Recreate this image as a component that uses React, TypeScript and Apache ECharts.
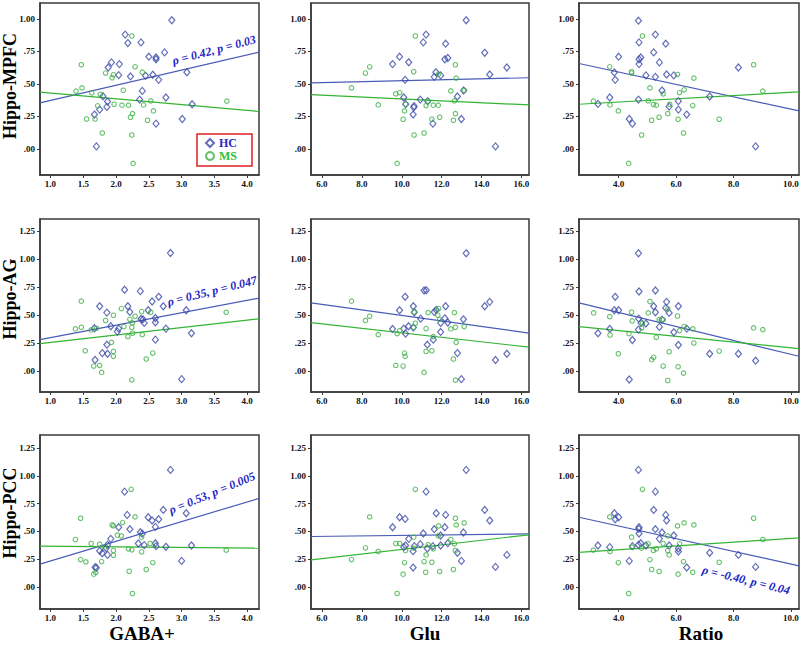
import React, { useEffect, useRef } from 'react';
import * as echarts from 'echarts';

// ---------- labels & ticks ----------
const rowNames = ['Hippo-MPFC', 'Hippo-AG', 'Hippo-PCC'];
const colNames = ['GABA+', 'Glu', 'Ratio'];
const gabaTicks = [1.0, 1.5, 2.0, 2.5, 3.0, 3.5, 4.0];
const gluTicks = [6, 8, 10, 12, 14, 16];
const ratioTicks = [4, 6, 8, 10];
const yTicksRow1 = [0, 0.25, 0.5, 0.75, 1.0];
const yTicksRow23 = [0, 0.25, 0.5, 0.75, 1.0, 1.25];
const annotTexts = ['ρ = 0.42, p = 0.03', 'ρ = 0.35, p = 0.047', 'ρ = 0.53, p = 0.005', 'ρ = -0.40, p = 0.04'];

// ---------- data: [x, y] per panel ----------
// Row 1: Hippo-MPFC
const hcMpfcGaba = [[2.85,0.99],[2.14,0.88],[2.18,0.815],[2.38,0.82],[2.74,0.743],[2.50,0.71],[2.61,0.704],[2.61,0.69],[1.93,0.666],[2.05,0.653],[1.88,0.627],[3.08,0.59],[2.04,0.568],[2.45,0.563],[2.56,0.571],[2.22,0.558],[2.65,0.532],[2.40,0.447],[2.76,0.396],[1.80,0.406],[2.36,0.38],[1.87,0.365],[3.16,0.344],[1.86,0.324],[1.75,0.303],[1.67,0.265],[3.01,0.231],[2.61,0.195],[1.70,0.02]];
const msMpfcGaba = [[2.24,0.869],[1.47,0.648],[2.29,0.632],[2.40,0.591],[1.84,0.584],[1.96,0.571],[1.94,0.548],[1.48,0.47],[2.11,0.452],[1.39,0.445],[1.63,0.432],[1.76,0.42],[2.53,0.37],[3.69,0.368],[1.97,0.344],[2.09,0.337],[2.19,0.337],[2.42,0.339],[1.72,0.332],[2.57,0.293],[2.25,0.272],[2.22,0.244],[1.55,0.231],[1.68,0.231],[2.48,0.221],[1.79,0.123],[2.24,0.108],[2.26,-0.111]];
const hcMpfcGlu = [[13.23,0.99],[11.22,0.88],[11.08,0.82],[12.20,0.81],[14.16,0.74],[9.89,0.71],[12.31,0.70],[12.16,0.69],[10.35,0.667],[9.54,0.653],[15.27,0.627],[11.71,0.59],[14.41,0.573],[11.95,0.566],[11.63,0.555],[10.17,0.532],[13.10,0.45],[12.79,0.404],[10.10,0.396],[10.93,0.38],[11.30,0.368],[10.20,0.345],[10.62,0.33],[10.60,0.32],[10.57,0.265],[12.99,0.231],[11.56,0.195],[14.70,0.02]];
const msMpfcGlu = [[10.68,0.869],[8.39,0.632],[8.18,0.584],[10.60,0.594],[12.69,0.648],[11.85,0.576],[12.73,0.545],[7.48,0.47],[12.46,0.447],[9.70,0.424],[9.90,0.434],[13.13,0.452],[11.32,0.368],[12.64,0.37],[8.82,0.339],[10.19,0.344],[11.22,0.334],[11.58,0.337],[11.83,0.337],[10.14,0.293],[12.69,0.272],[11.90,0.244],[10.07,0.229],[11.51,0.229],[12.59,0.221],[11.12,0.123],[10.62,0.108],[9.77,-0.111]];
const hcMpfcRatio = [[4.69,0.987],[5.28,0.88],[4.71,0.82],[5.64,0.81],[5.22,0.743],[4.00,0.71],[4.77,0.704],[4.71,0.69],[5.42,0.666],[4.71,0.653],[8.17,0.627],[3.85,0.589],[5.67,0.573],[5.92,0.566],[4.95,0.566],[5.28,0.555],[3.88,0.532],[5.51,0.45],[3.69,0.396],[7.17,0.404],[4.69,0.38],[6.08,0.368],[3.28,0.347],[5.76,0.326],[6.08,0.303],[6.37,0.265],[4.37,0.231],[4.48,0.195],[8.77,0.02]];
const msMpfcRatio = [[4.83,0.869],[8.70,0.648],[3.69,0.632],[4.45,0.594],[4.45,0.584],[6.05,0.573],[6.62,0.545],[5.09,0.47],[6.28,0.455],[6.12,0.434],[5.55,0.424],[9.02,0.445],[3.12,0.368],[5.03,0.37],[3.70,0.339],[5.21,0.342],[5.31,0.337],[5.78,0.344],[6.58,0.334],[5.71,0.272],[3.99,0.293],[5.41,0.244],[5.15,0.221],[6.07,0.229],[7.50,0.229],[6.26,0.123],[4.80,0.108],[4.35,-0.111]];
// Row 2: Hippo-AG
const hcAgGaba = [[2.83,1.053],[2.13,0.724],[2.37,0.712],[2.65,0.661],[1.75,0.577],[2.18,0.577],[2.55,0.619],[2.72,0.577],[3.07,0.541],[1.86,0.52],[2.21,0.526],[2.49,0.541],[2.38,0.463],[2.60,0.472],[2.43,0.428],[2.60,0.434],[1.92,0.398],[2.04,0.377],[2.02,0.35],[2.76,0.377],[1.67,0.38],[3.15,0.335],[2.60,0.278],[1.86,0.233],[1.79,0.158],[1.87,0.152],[1.68,0.096],[3.00,-0.075],[2.41,0.46]];
const msAgGaba = [[1.47,0.622],[1.38,0.374],[1.47,0.389],[1.62,0.365],[1.70,0.38],[2.08,0.556],[1.96,0.496],[1.84,0.449],[2.39,0.529],[2.53,0.523],[2.29,0.487],[2.21,0.46],[2.25,0.428],[2.12,0.395],[2.24,0.389],[2.25,0.335],[2.40,0.323],[2.18,0.305],[3.68,0.523],[1.93,0.254],[1.53,0.179],[1.96,0.173],[1.96,0.129],[2.56,0.158],[2.46,0.105],[1.66,0.042],[1.75,0.048],[1.78,-0.015],[2.24,-0.081]];
const hcAgGlu = [[13.23,1.05],[11.12,0.718],[11.23,0.72],[10.17,0.661],[14.41,0.616],[14.16,0.577],[12.20,0.577],[10.58,0.577],[9.89,0.541],[11.73,0.544],[11.63,0.526],[10.63,0.523],[10.95,0.466],[12.16,0.469],[13.09,0.46],[11.95,0.428],[12.31,0.431],[10.34,0.398],[9.54,0.374],[10.10,0.377],[10.58,0.386],[10.19,0.332],[11.95,0.347],[11.58,0.278],[11.28,0.233],[12.79,0.158],[15.27,0.152],[14.70,0.096],[12.99,-0.075]];
const msAgGlu = [[7.48,0.622],[8.39,0.487],[8.18,0.449],[8.82,0.323],[9.77,0.332],[9.90,0.359],[10.62,0.526],[10.68,0.425],[10.60,0.389],[11.32,0.52],[11.85,0.556],[11.81,0.496],[11.90,0.46],[12.64,0.52],[12.46,0.374],[12.69,0.389],[13.13,0.395],[11.22,0.377],[11.58,0.305],[12.73,0.254],[10.14,0.158],[10.17,0.129],[11.22,0.173],[11.51,0.179],[12.59,0.105],[9.70,0.048],[10.07,0.042],[11.12,-0.015],[12.69,-0.084]];
const hcAgRatio = [[4.69,1.05],[4.71,0.709],[5.28,0.718],[3.88,0.661],[5.67,0.616],[5.22,0.577],[6.08,0.577],[5.64,0.562],[3.85,0.541],[4.00,0.541],[5.28,0.523],[5.76,0.517],[4.70,0.466],[5.51,0.457],[4.78,0.428],[4.95,0.422],[5.42,0.392],[6.37,0.377],[3.69,0.374],[4.69,0.368],[5.92,0.344],[3.28,0.335],[4.48,0.275],[6.08,0.23],[7.17,0.152],[8.17,0.152],[8.77,0.09],[4.37,-0.078]];
const msAgRatio = [[3.13,0.517],[3.69,0.484],[3.70,0.32],[3.99,0.152],[4.45,0.523],[4.47,0.446],[4.36,0.332],[4.83,0.425],[4.80,0.383],[5.09,0.619],[5.03,0.517],[5.41,0.457],[5.31,0.299],[5.71,0.553],[5.55,0.457],[5.76,0.17],[6.05,0.49],[6.12,0.359],[6.28,0.395],[6.58,0.374],[6.62,0.248],[7.50,0.176],[8.70,0.383],[9.02,0.368],[5.15,0.099],[5.22,0.12],[5.55,0.042],[6.07,0.036],[6.26,-0.021],[5.71,-0.087]];
// Row 3: Hippo-PCC
const hcPccGaba = [[2.83,1.055],[2.13,0.859],[2.17,0.649],[2.49,0.628],[2.55,0.598],[2.65,0.61],[2.72,0.694],[3.07,0.664],[2.04,0.538],[2.21,0.52],[2.60,0.541],[1.92,0.433],[2.37,0.493],[2.40,0.48],[1.87,0.379],[1.85,0.349],[1.75,0.325],[1.79,0.303],[1.87,0.288],[2.34,0.391],[2.43,0.376],[2.60,0.394],[2.61,0.367],[2.76,0.361],[3.15,0.373],[3.00,0.234],[1.68,0.177],[1.70,0.172]];
const msPccGaba = [[2.23,0.88],[1.46,0.619],[2.29,0.631],[2.10,0.58],[1.94,0.559],[1.96,0.55],[1.38,0.427],[1.62,0.391],[1.75,0.385],[2.02,0.466],[2.08,0.46],[2.39,0.448],[2.52,0.391],[1.83,0.358],[1.96,0.328],[1.96,0.285],[2.19,0.343],[2.24,0.334],[2.39,0.316],[3.68,0.331],[1.46,0.246],[1.54,0.225],[1.78,0.228],[2.56,0.219],[1.69,0.129],[1.66,0.114],[2.20,0.141],[2.46,0.156],[2.25,-0.06]];
const hcPccGlu = [[13.23,1.055],[11.22,0.859],[14.16,0.694],[9.89,0.628],[10.17,0.613],[9.54,0.538],[11.73,0.664],[12.20,0.649],[14.41,0.598],[11.63,0.52],[12.16,0.538],[11.95,0.463],[11.08,0.481],[13.09,0.49],[10.35,0.433],[10.93,0.385],[10.19,0.373],[10.10,0.358],[10.63,0.367],[11.28,0.346],[11.56,0.367],[12.31,0.394],[11.95,0.373],[12.79,0.307],[10.57,0.322],[12.99,0.234],[15.27,0.288],[14.70,0.18],[10.57,0.174]];
const msPccGlu = [[10.68,0.88],[8.39,0.631],[7.48,0.246],[8.18,0.352],[8.82,0.319],[9.70,0.391],[9.90,0.391],[10.19,0.328],[10.60,0.448],[10.60,0.349],[10.14,0.219],[10.07,0.114],[11.22,0.288],[11.12,0.228],[11.20,0.132],[11.51,0.222],[11.58,0.343],[11.85,0.55],[11.83,0.46],[11.90,0.138],[12.46,0.427],[12.59,0.156],[12.64,0.388],[12.69,0.619],[12.73,0.559],[13.13,0.577],[12.69,0.328],[11.32,0.38],[9.77,-0.06]];
const hcPccRatio = [[4.69,1.055],[5.28,0.859],[5.22,0.694],[3.85,0.664],[4.00,0.628],[3.88,0.61],[5.64,0.649],[5.67,0.598],[4.71,0.538],[4.70,0.523],[5.28,0.52],[5.51,0.49],[4.71,0.481],[5.92,0.463],[5.42,0.433],[4.77,0.394],[4.69,0.379],[4.95,0.373],[5.76,0.373],[4.48,0.367],[3.28,0.373],[3.69,0.358],[6.08,0.346],[6.08,0.319],[7.17,0.307],[8.17,0.288],[4.37,0.234],[6.37,0.174],[8.77,0.18]];
const msPccRatio = [[4.83,0.88],[3.69,0.631],[8.70,0.619],[6.28,0.577],[6.62,0.559],[6.05,0.55],[4.45,0.448],[5.71,0.46],[9.02,0.427],[5.55,0.391],[6.12,0.388],[5.03,0.388],[4.47,0.358],[4.80,0.349],[5.31,0.343],[5.21,0.328],[5.71,0.328],[3.12,0.331],[3.70,0.319],[5.76,0.288],[5.09,0.246],[3.99,0.219],[6.26,0.228],[7.50,0.222],[5.15,0.156],[5.41,0.138],[6.07,0.114],[6.58,0.132],[4.35,-0.06]];

// fit lines: [intercept, slope] per panel (row-major)
const fitsHC = [[0.256,0.117],[0.4895,0.00358],[0.7825,-0.04757],[0.185,0.1112],[0.7415,-0.02468],[0.770,-0.0623],[0.0561,0.1775],[0.442,0.0022],[0.7777,-0.0572]];
const fitsMS = [[0.475,-0.0446],[0.459,-0.00734],[0.3113,0.01251],[0.187,0.0663],[0.5405,-0.0201],[0.4625,-0.0258],[0.3715,-0.0054],[0.130,0.02073],[0.265,0.0172]];

const hcPanels = [hcMpfcGaba, hcMpfcGlu, hcMpfcRatio, hcAgGaba, hcAgGlu, hcAgRatio, hcPccGaba, hcPccGlu, hcPccRatio];
const msPanels = [msMpfcGaba, msMpfcGlu, msMpfcRatio, msAgGaba, msAgGlu, msAgRatio, msPccGaba, msPccGlu, msPccRatio];

// ---------- layout ----------
const FONT = '"Liberation Serif", "Times New Roman", serif';
const colLeft = [40, 311, 579];
const colWidth = [219, 218, 220];
const rowTop = [3, 219, 435];
const rowHeight = [172, 173, 174];
const xRanges = [[0.84, 4.18], [5.45, 16.38], [2.62, 10.28]];
const yRanges = [[-0.2, 1.123], [-0.19, 1.357], [-0.2, 1.37]];
const xTicks = [gabaTicks, gluTicks, ratioTicks];
const yTicks = [yTicksRow1, yTicksRow23, yTicksRow23];

const BLUE = '#3b4aa8';
const BLUE_LINE = '#4a5cb8';
const GREEN = '#3cb043';
const GREEN_LINE = '#33b433';
const FRAME = '#3a3a3a';
const ANNOT = '#2222c4';

function yFmt(v: number) {
  return v.toFixed(2).replace(/^0\./, '.');
}

function buildOption() {
  const grids: any[] = [];
  const xAxes: any[] = [];
  const yAxes: any[] = [];
  const series: any[] = [];
  for (let r = 0; r < 3; r++) {
    for (let c = 0; c < 3; c++) {
      const idx = r * 3 + c;
      grids.push({
        left: colLeft[c], top: rowTop[r], width: colWidth[c], height: rowHeight[r],
        show: true, borderColor: FRAME, borderWidth: 1.5, backgroundColor: 'transparent',
        containLabel: false, outerBoundsMode: 'none',
      });
      const labelCommon = { fontFamily: FONT, fontWeight: 'bold', fontSize: 9, color: '#111' };
      xAxes.push({
        gridIndex: idx, type: 'value', min: xRanges[c][0], max: xRanges[c][1],
        axisLine: { show: true, onZero: false, lineStyle: { color: FRAME, width: 1.5 } },
        axisTick: { show: true, length: 3, customValues: xTicks[c], lineStyle: { color: FRAME } },
        axisLabel: { ...labelCommon, customValues: xTicks[c], margin: 4, formatter: (v: number) => v.toFixed(1) },
        splitLine: { show: false },
      });
      yAxes.push({
        gridIndex: idx, type: 'value', min: yRanges[r][0], max: yRanges[r][1],
        axisLine: { show: true, onZero: false, lineStyle: { color: FRAME, width: 1.5 } },
        axisTick: { show: true, length: 3, customValues: yTicks[r], lineStyle: { color: FRAME } },
        axisLabel: { ...labelCommon, customValues: yTicks[r], margin: 5, formatter: yFmt },
        splitLine: { show: false },
      });
      const [x0, x1] = xRanges[c];
      const fh = fitsHC[idx];
      const fm = fitsMS[idx];
      series.push({
        type: 'line', name: 'HC fit', xAxisIndex: idx, yAxisIndex: idx, silent: true,
        symbol: 'none', showSymbol: false, z: 2,
        lineStyle: { color: BLUE_LINE, width: 1.2 },
        data: [[x0, fh[0] + fh[1] * x0], [x1, fh[0] + fh[1] * x1]],
      });
      series.push({
        type: 'line', name: 'MS fit', xAxisIndex: idx, yAxisIndex: idx, silent: true,
        symbol: 'none', showSymbol: false, z: 2,
        lineStyle: { color: GREEN_LINE, width: 1.2 },
        data: [[x0, fm[0] + fm[1] * x0], [x1, fm[0] + fm[1] * x1]],
      });
      series.push({
        type: 'scatter', name: 'HC', xAxisIndex: idx, yAxisIndex: idx, z: 3,
        symbol: 'diamond', symbolSize: [6, 7],
        itemStyle: { color: 'rgba(255,255,255,0)', borderColor: BLUE, borderWidth: 1.2 },
        data: hcPanels[idx],
      });
      series.push({
        type: 'scatter', name: 'MS', xAxisIndex: idx, yAxisIndex: idx, z: 3,
        symbol: 'circle', symbolSize: 4.5,
        itemStyle: { color: 'rgba(255,255,255,0)', borderColor: GREEN, borderWidth: 1.1 },
        data: msPanels[idx],
      });
    }
  }

  const graphics: any[] = [];
  const rowLabelY = [86, 299, 513];
  rowNames.forEach((t, i) => {
    graphics.push({
      type: 'text', x: 10, y: rowLabelY[i], rotation: Math.PI / 2,
      style: { text: t, fill: '#000', font: `bold 18px ${FONT}`, align: 'center', verticalAlign: 'middle', textAlign: 'center', textVerticalAlign: 'middle' },
    });
  });
  const colLabelX = [142, 425, 701];
  colNames.forEach((t, i) => {
    graphics.push({
      type: 'text', x: colLabelX[i], y: 633,
      style: { text: t, fill: '#000', font: `bold 19px ${FONT}`, align: 'center', verticalAlign: 'middle', textAlign: 'center', textVerticalAlign: 'middle' },
    });
  });
  const annotPos = [[214, 50, 0.257], [212, 291, 0.243], [212, 493, 0.39], [746, 580, -0.237]];
  annotTexts.forEach((t, i) => {
    const [x, y, rot] = annotPos[i];
    graphics.push({
      type: 'text', x, y, rotation: rot,
      style: { text: t, fill: ANNOT, font: `italic bold 12px ${FONT}`, align: 'center', verticalAlign: 'middle', textAlign: 'center', textVerticalAlign: 'middle' },
    });
  });

  return {
    animation: false,
    backgroundColor: '#fff',
    grid: grids,
    xAxis: xAxes,
    yAxis: yAxes,
    series,
    legend: {
      left: 197, top: 134, orient: 'vertical', selectedMode: false,
      data: [
        { name: 'HC', textStyle: { color: '#2a2ac8' } },
        { name: 'MS', textStyle: { color: '#33c033' } },
      ],
      itemWidth: 8, itemHeight: 8, itemGap: 1, itemTextGap: 5,
      padding: [3, 15, 4, 8],
      borderColor: '#e02020', borderWidth: 1.5, backgroundColor: '#fff',
      textStyle: { fontFamily: FONT, fontWeight: 'bold', fontSize: 12, lineHeight: 12 },
    },
    graphic: graphics,
  };
}

export default function App() {
  const ref = useRef<HTMLDivElement>(null);
  useEffect(() => {
    if (!ref.current) return;
    const chart = echarts.init(ref.current, undefined, { renderer: 'svg' });
    chart.setOption(buildOption() as any);
    return () => chart.dispose();
  }, []);
  return <div ref={ref} style={{ position: 'fixed', left: 0, top: 0, width: 800, height: 645, background: '#fff' }} />;
}
